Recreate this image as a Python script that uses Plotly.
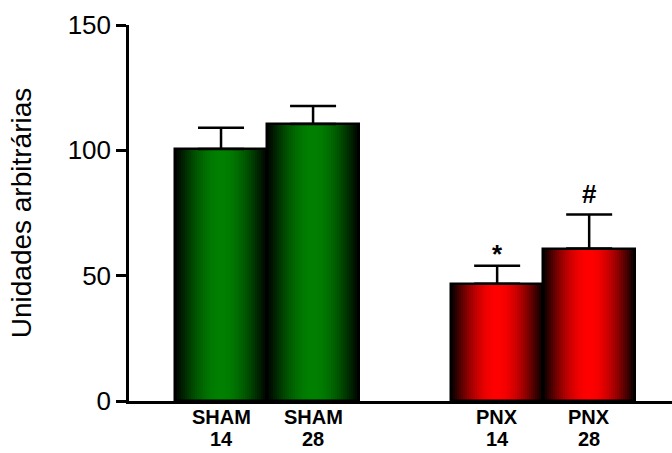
import numpy as np
import plotly.graph_objects as go

group_names = ["SHAM", "SHAM", "PNX", "PNX"]
days = ["14", "28", "14", "28"]
means = [100.5, 110.5, 46.8, 60.8]
sem = [8.5, 7.2, 7.2, 13.6]
marks = ["", "", "*", "#"]
groups = ["sham", "sham", "pnx", "pnx"]

positions = [0, 1, 3, 4]
peak = {"sham": (0, 128, 0), "pnx": (255, 0, 0)}
mark_shift = {"*": 12, "#": 21}
N = 46

fig = go.Figure()
for m, pos, g in zip(means, positions, groups):
    t = (np.arange(N) + 0.5) / N
    inten = np.sin(np.pi * t) ** 1.0
    r, gg, b = peak[g]
    cols = [f"rgb({int(r*k)},{int(gg*k)},{int(b*k)})" for k in inten]
    xs = pos - 0.5 + t
    fig.add_trace(go.Bar(x=xs, y=[m] * N, width=[1.0 / N * 1.05] * N,
                         marker=dict(color=cols, line=dict(width=0)),
                         showlegend=False, hoverinfo="skip"))

fig.add_trace(go.Bar(x=positions, y=means, width=[1] * 4,
                     marker=dict(color="rgba(0,0,0,0)", line=dict(color="black", width=2.5)),
                     error_y=dict(type="data", array=sem, arrayminus=[0] * 4, symmetric=False,
                                  color="black", thickness=2.5, width=23),
                     showlegend=False))

for pos, m, s, mk in zip(positions, means, sem, marks):
    if mk:
        fig.add_annotation(x=pos, y=m + s, text=f"<b>{mk}</b>", showarrow=False,
                           yshift=mark_shift[mk], font=dict(size=26, color="black", family="Arial"))

for pos, name, d in zip(positions, group_names, days):
    fig.add_annotation(x=pos, y=0, text=f"<b>{name}</b>", showarrow=False, yanchor="middle",
                       yshift=-16, font=dict(size=20, color="black", family="Arial"))
    fig.add_annotation(x=pos, y=0, text=f"<b>{d}</b>", showarrow=False, yanchor="middle",
                       yshift=-38, font=dict(size=20, color="black", family="Arial"))

fig.update_layout(
    width=672, height=453, barmode="overlay", bargap=0,
    plot_bgcolor="white", paper_bgcolor="white",
    margin=dict(l=129, r=0, t=25, b=52),
    font=dict(family="Arial", color="black"),
)
fig.update_xaxes(range=[-1.0, 4.9], showticklabels=False, showline=True, linecolor="black",
                 linewidth=2.5, ticks="", showgrid=False, zeroline=False, automargin=False)
fig.update_yaxes(range=[0, 150], tickvals=[0, 50, 100, 150], tickfont=dict(size=26),
                 showline=True, linecolor="black", linewidth=2.5, ticks="outside",
                 ticklen=10, tickwidth=2.5, tickcolor="black", showgrid=False, zeroline=False,
                 automargin=False,
                 title=dict(text="Unidades arbitrárias", font=dict(size=28), standoff=28))
fig.write_html("out.html", config={"displayModeBar": False},
               post_script="document.body.style.margin='0';document.body.style.overflow='hidden';")
